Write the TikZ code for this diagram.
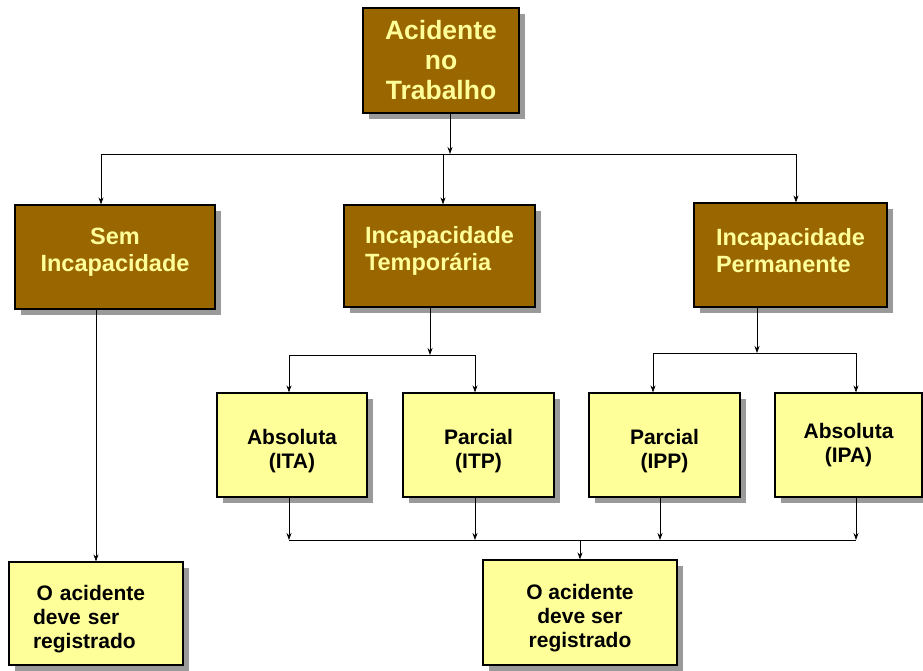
\documentclass[tikz,border=0pt]{standalone}
\usepackage{fontspec}
\setmainfont{Liberation Sans}
\usepackage{tikz}
\usetikzlibrary{arrows.meta,shadows}
\definecolor{marrom}{HTML}{996600}
\definecolor{amarelo}{HTML}{FFFF99}
\definecolor{sombra}{HTML}{9A9A9A}

\begin{document}
\begin{tikzpicture}[x=1pt, y=-1pt, >={Stealth[length=7pt,width=5pt]}, line width=0.7pt,
  caixa/.style={draw=black, line width=1.2pt, inner sep=2pt,
    drop shadow={shadow xshift=6pt, shadow yshift=-6pt, fill=sombra, opacity=1}},
  nivel/.style={caixa, fill=marrom, text=amarelo, font=\bfseries\fontsize{23.5}{27}\selectfont},
  folha/.style={caixa, fill=amarelo, text=black, font=\bfseries\fontsize{21}{24}\selectfont}]
  \useasboundingbox (0,0) rectangle (923,671);
  % caixas
  \node[nivel, minimum width=156pt, minimum height=105pt, align=center,
    font=\bfseries\fontsize{26.5}{30}\selectfont] (acid) at (441,60.5) {Acidente\\no\\Trabalho};
  \node[nivel, minimum width=200pt, minimum height=104pt, align=center] (sem) at (115,257) {Sem\\Incapacidade\\[-12pt]\mbox{}};
  \node[nivel, minimum width=191pt, minimum height=102pt, align=left] (temp) at (439.5,256) {Incapacidade\\Temporária\\[-12pt]\mbox{}};
  \node[nivel, minimum width=193pt, minimum height=104pt, align=left] (perm) at (790.5,255) {Incapacidade\\Permanente\\[-18pt]\mbox{}};
  \node[folha, minimum width=150pt, minimum height=104pt, align=center] (ita) at (292,445) {\mbox{}\\[4pt]Absoluta\\(ITA)};
  \node[folha, minimum width=151pt, minimum height=104pt, align=center] (itp) at (478.5,445) {\mbox{}\\[3pt]Parcial\\(ITP)};
  \node[folha, minimum width=151pt, minimum height=104pt, align=center] (ipp) at (664.5,445) {\mbox{}\\[4pt]Parcial\\(IPP)};
  \node[folha, minimum width=147pt, minimum height=104pt, align=center] (ipa) at (848.5,445) {Absoluta\\(IPA)};
  \node[folha, minimum width=174pt, minimum height=103pt, align=left, text width=126pt] (reg1) at (96,613.5) {\mbox{}\\[3pt]\,O acidente\\deve ser\\registrado};
  \node[folha, minimum width=194pt, minimum height=105pt, align=center] (reg2) at (580,612.5) {\mbox{}\\[3pt]O acidente\\deve ser\\registrado};
  % primeiro nivel
  \coordinate (b1) at (450,154);
  \coordinate (b1l) at (101,154);
  \coordinate (b1m) at (443,154);
  \coordinate (b1r) at (796,154);
  \draw[->] (acid.south -| b1) -- (b1);
  \draw (b1l) -- (b1r);
  \draw[->] (b1l) -- (b1l |- sem.north);
  \draw[->] (b1m) -- (b1m |- temp.north);
  \draw[->] (b1r) -- (b1r |- perm.north);
  % sem incapacidade
  \draw[->] (sem.south -| reg1.north) -- (reg1.north);
  % temporaria
  \coordinate (b2) at (430,355);
  \coordinate (b2l) at (289,355);
  \coordinate (b2r) at (475,355);
  \draw[->] (temp.south -| b2) -- (b2);
  \draw (b2l) -- (b2r);
  \draw[->] (b2l) -- (b2l |- ita.north);
  \draw[->] (b2r) -- (b2r |- itp.north);
  % permanente
  \coordinate (b3) at (757,353);
  \coordinate (b3l) at (653,353);
  \coordinate (b3r) at (856,353);
  \draw[->] (perm.south -| b3) -- (b3);
  \draw (b3l) -- (b3r);
  \draw[->] (b3l) -- (b3l |- ipp.north);
  \draw[->] (b3r) -- (b3r |- ipa.north);
  % juncao final
  \coordinate (c1) at (289,540);
  \coordinate (c2) at (475,540);
  \coordinate (c3) at (660,540);
  \coordinate (c4) at (856,540);
  \coordinate (cm) at (580,540);
  \draw (c1) -- (c4);
  \draw[->] (ita.south -| c1) -- (c1);
  \draw[->] (itp.south -| c2) -- (c2);
  \draw[->] (ipp.south -| c3) -- (c3);
  \draw[->] (ipa.south -| c4) -- (c4);
  \draw[->] (cm) -- (reg2.north);
\end{tikzpicture}
\end{document}
